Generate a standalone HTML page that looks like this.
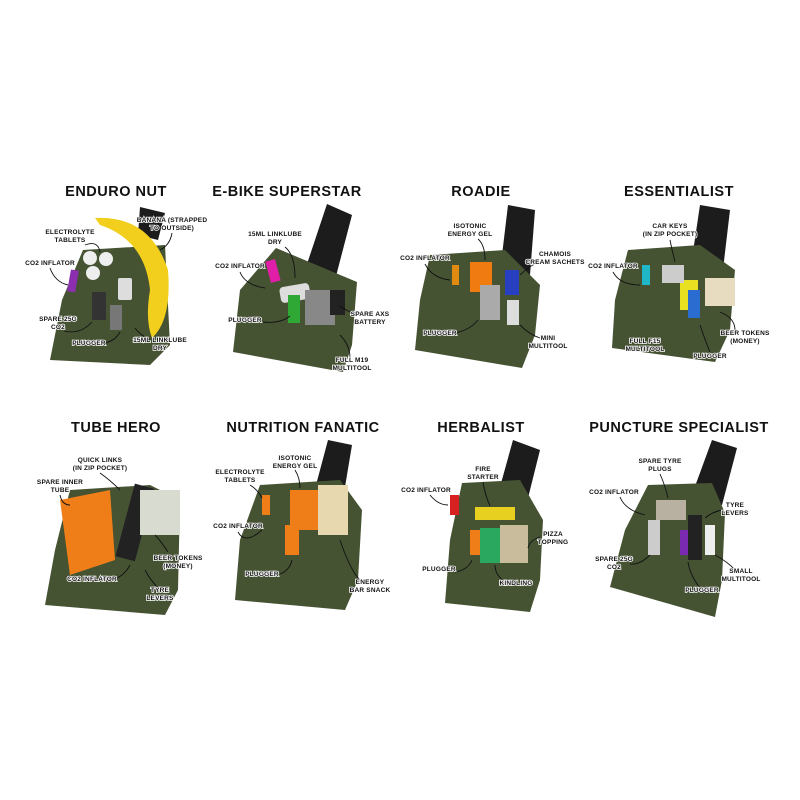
<!DOCTYPE html>
<html><head><meta charset="utf-8"><style>
body{margin:0;background:#fff;width:800px;height:800px;overflow:hidden}
svg{display:block}
.t{font-family:"Liberation Sans",sans-serif;font-weight:bold;font-size:14.5px;fill:#111;letter-spacing:.5px}
.l{font-family:"Liberation Sans",sans-serif;font-weight:bold;font-size:6.5px;fill:#111;stroke:#fff;stroke-width:1.6px;paint-order:stroke;letter-spacing:.2px}
.p{fill:#465333}
.d{fill:#1c1c1c}
.a{fill:none;stroke:#111;stroke-width:.9}
</style></head><body>
<svg width="800" height="800" viewBox="0 0 800 800">
<rect width="800" height="800" fill="#fff"/>
<text class="t" x="116" y="196" text-anchor="middle">ENDURO NUT</text>
<text class="t" x="287" y="196" text-anchor="middle">E-BIKE SUPERSTAR</text>
<text class="t" x="481" y="196" text-anchor="middle">ROADIE</text>
<text class="t" x="679" y="196" text-anchor="middle">ESSENTIALIST</text>
<text class="t" x="116" y="432" text-anchor="middle">TUBE HERO</text>
<text class="t" x="303" y="432" text-anchor="middle">NUTRITION FANATIC</text>
<text class="t" x="481" y="432" text-anchor="middle">HERBALIST</text>
<text class="t" x="679" y="432" text-anchor="middle">PUNCTURE SPECIALIST</text>

<polygon class="d" points="140,207 165,213 158,240 138,235"/>
<polygon class="d" points="327,204 352,215 335,280 305,270"/>
<polygon class="d" points="508,205 535,210 530,275 500,272"/>
<polygon class="d" points="700,205 730,210 722,278 690,272"/>
<polygon class="d" points="328,440 352,445 342,505 312,500"/>
<polygon class="d" points="513,440 540,450 525,510 495,505"/>
<polygon class="d" points="712,440 737,448 722,505 690,500"/>

<polygon class="p" points="83,250 165,245 170,345 150,365 50,360 62,300"/>
<polygon class="p" points="276,248 357,282 352,345 343,372 233,352 240,290"/>
<polygon class="p" points="430,255 505,250 540,285 535,335 522,368 415,350 420,300"/>
<polygon class="p" points="628,250 700,245 735,270 730,330 715,362 612,348 615,300"/>
<polygon class="p" points="70,490 150,485 180,500 178,590 165,615 45,605 55,550"/>
<polygon class="p" points="260,485 340,480 362,510 358,580 345,610 235,600 240,540"/>
<polygon class="p" points="462,483 520,480 543,520 540,580 530,612 445,603 450,540"/>
<polygon class="p" points="648,485 712,483 725,513 722,580 715,617 610,587 625,530"/>

<path d="M95,218 Q150,215 168,270 Q172,320 152,338 Q145,320 150,290 Q145,240 100,225 Z" fill="#f2cf1c"/>
<circle cx="90" cy="258" r="7" fill="#eee"/><circle cx="106" cy="259" r="7" fill="#eee"/><circle cx="93" cy="273" r="7" fill="#eee"/>
<rect x="69" y="270" width="8" height="22" fill="#8b2fb0" transform="rotate(10 73 281)"/>
<rect x="118" y="278" width="14" height="22" fill="#ddd" rx="2"/>
<rect x="92" y="292" width="14" height="28" fill="#333"/><rect x="110" y="305" width="12" height="25" fill="#777"/>
<rect x="268" y="260" width="10" height="22" fill="#e01ea8" transform="rotate(-15 273 271)"/>
<rect x="280" y="285" width="30" height="16" fill="#ddd" rx="4" transform="rotate(-10 295 293)"/>
<rect x="288" y="295" width="12" height="28" fill="#2fa836"/>
<rect x="305" y="290" width="30" height="35" fill="#888"/>
<rect x="330" y="290" width="15" height="25" fill="#222"/>
<rect x="452" y="265" width="7" height="20" fill="#e08a10"/>
<rect x="470" y="262" width="22" height="30" fill="#f07b10"/>
<rect x="480" y="285" width="20" height="35" fill="#aaa"/>
<rect x="505" y="270" width="14" height="25" fill="#2840c0"/>
<rect x="507" y="300" width="12" height="25" fill="#ddd"/>
<rect x="642" y="265" width="8" height="20" fill="#20b8c8"/>
<rect x="680" y="280" width="18" height="30" fill="#e8e020"/>
<rect x="688" y="290" width="12" height="28" fill="#2a6cd0"/>
<rect x="705" y="278" width="30" height="28" fill="#e8dcc0"/>
<rect x="662" y="265" width="22" height="18" fill="#ccc"/>
<polygon points="60,500 110,490 115,560 70,575" fill="#f07e18"/>
<rect x="125" y="485" width="20" height="75" fill="#222" transform="rotate(15 135 522)"/>
<rect x="140" y="490" width="40" height="45" fill="#d8dcd0"/>
<rect x="262" y="495" width="8" height="20" fill="#f07e18"/>
<rect x="290" y="490" width="28" height="40" fill="#f07e18"/>
<rect x="318" y="485" width="30" height="50" fill="#e8d8b0"/>
<rect x="285" y="525" width="14" height="30" fill="#f07e18"/>
<rect x="450" y="495" width="9" height="20" fill="#d82020"/>
<rect x="475" y="507" width="40" height="13" fill="#e8d020"/>
<rect x="470" y="530" width="10" height="25" fill="#f07e18"/>
<rect x="480" y="528" width="20" height="35" fill="#2aa860"/>
<rect x="500" y="525" width="28" height="38" fill="#c8bc9c"/>
<rect x="656" y="500" width="30" height="20" fill="#b8b0a0"/>
<rect x="680" y="530" width="10" height="25" fill="#7a2ab0"/>
<rect x="688" y="515" width="14" height="45" fill="#222"/>
<rect x="705" y="525" width="10" height="30" fill="#eee"/>
<rect x="648" y="520" width="12" height="35" fill="#ccc"/>

<!-- connectors -->
<g class="a">
<path d="M85,245 Q98,240 100,252"/><path d="M50,268 Q55,282 68,285"/><path d="M64,331 Q80,335 92,322"/>
<path d="M100,344 Q115,342 120,332"/><path d="M172,233 Q170,245 160,250"/><path d="M150,340 Q140,335 135,328"/>
<path d="M285,247 Q295,255 295,278"/><path d="M240,272 Q245,285 265,288"/><path d="M262,322 Q280,324 290,316"/>
<path d="M355,314 Q345,310 340,306"/><path d="M350,358 Q350,345 340,335"/>
<path d="M478,239 Q485,245 485,260"/><path d="M425,264 Q432,278 450,280"/><path d="M540,262 Q530,265 520,275"/>
<path d="M455,333 Q470,330 478,320"/><path d="M540,338 Q530,335 520,325"/>
<path d="M670,240 Q672,250 675,262"/><path d="M613,272 Q620,285 640,285"/><path d="M735,330 Q735,318 720,312"/><path d="M710,352 Q705,340 700,325"/>
<path d="M100,473 Q110,480 120,490"/><path d="M60,495 Q62,505 70,505"/><path d="M168,552 Q160,540 155,535"/><path d="M115,579 Q125,575 130,565"/><path d="M160,590 Q150,580 145,570"/>
<path d="M295,470 Q300,478 300,488"/><path d="M250,485 Q258,490 262,498"/><path d="M238,532 Q245,545 262,530"/><path d="M280,574 Q290,570 292,560"/><path d="M360,580 Q350,570 340,540"/>
<path d="M483,482 Q485,495 490,506"/><path d="M430,495 Q438,505 448,505"/><path d="M540,537 Q530,540 528,548"/><path d="M455,572 Q468,570 472,560"/><path d="M505,582 Q495,575 495,565"/>
<path d="M660,474 Q665,485 668,498"/><path d="M620,497 Q625,510 645,515"/><path d="M722,510 Q712,512 705,518"/><path d="M630,564 Q640,565 650,555"/><path d="M735,570 Q728,562 715,555"/><path d="M700,588 Q690,575 688,562"/>
</g>

<g>
<text class="l" x="70" y="234" text-anchor="middle">ELECTROLYTE</text><text class="l" x="70" y="242" text-anchor="middle">TABLETS</text>
<text class="l" x="50" y="265" text-anchor="middle">CO2 INFLATOR</text>
<text class="l" x="58" y="321" text-anchor="middle">SPARE 25G</text><text class="l" x="58" y="329" text-anchor="middle">CO2</text>
<text class="l" x="89" y="345" text-anchor="middle">PLUGGER</text>
<text class="l" x="172" y="222" text-anchor="middle">BANANA (STRAPPED</text><text class="l" x="172" y="230" text-anchor="middle">TO OUTSIDE)</text>
<text class="l" x="160" y="342" text-anchor="middle">15ML LINKLUBE</text><text class="l" x="160" y="350" text-anchor="middle">DRY</text>
<text class="l" x="275" y="236" text-anchor="middle">15ML LINKLUBE</text><text class="l" x="275" y="244" text-anchor="middle">DRY</text>
<text class="l" x="240" y="268" text-anchor="middle">CO2 INFLATOR</text>
<text class="l" x="245" y="322" text-anchor="middle">PLUGGER</text>
<text class="l" x="370" y="316" text-anchor="middle">SPARE AXS</text><text class="l" x="370" y="324" text-anchor="middle">BATTERY</text>
<text class="l" x="352" y="362" text-anchor="middle">FULL M19</text><text class="l" x="352" y="370" text-anchor="middle">MULTITOOL</text>
<text class="l" x="470" y="228" text-anchor="middle">ISOTONIC</text><text class="l" x="470" y="236" text-anchor="middle">ENERGY GEL</text>
<text class="l" x="425" y="260" text-anchor="middle">CO2 INFLATOR</text>
<text class="l" x="555" y="256" text-anchor="middle">CHAMOIS</text><text class="l" x="555" y="264" text-anchor="middle">CREAM SACHETS</text>
<text class="l" x="440" y="335" text-anchor="middle">PLUGGER</text>
<text class="l" x="548" y="340" text-anchor="middle">MINI</text><text class="l" x="548" y="348" text-anchor="middle">MULTITOOL</text>
<text class="l" x="670" y="228" text-anchor="middle">CAR KEYS</text><text class="l" x="670" y="236" text-anchor="middle">(IN ZIP POCKET)</text>
<text class="l" x="613" y="268" text-anchor="middle">CO2 INFLATOR</text>
<text class="l" x="645" y="343" text-anchor="middle">FULL F15</text><text class="l" x="645" y="351" text-anchor="middle">MULTITOOL</text>
<text class="l" x="745" y="335" text-anchor="middle">BEER TOKENS</text><text class="l" x="745" y="343" text-anchor="middle">(MONEY)</text>
<text class="l" x="710" y="358" text-anchor="middle">PLUGGER</text>
<text class="l" x="100" y="462" text-anchor="middle">QUICK LINKS</text><text class="l" x="100" y="470" text-anchor="middle">(IN ZIP POCKET)</text>
<text class="l" x="60" y="484" text-anchor="middle">SPARE INNER</text><text class="l" x="60" y="492" text-anchor="middle">TUBE</text>
<text class="l" x="178" y="560" text-anchor="middle">BEER TOKENS</text><text class="l" x="178" y="568" text-anchor="middle">(MONEY)</text>
<text class="l" x="92" y="581" text-anchor="middle">CO2 INFLATOR</text>
<text class="l" x="160" y="592" text-anchor="middle">TYRE</text><text class="l" x="160" y="600" text-anchor="middle">LEVERS</text>
<text class="l" x="295" y="460" text-anchor="middle">ISOTONIC</text><text class="l" x="295" y="468" text-anchor="middle">ENERGY GEL</text>
<text class="l" x="240" y="474" text-anchor="middle">ELECTROLYTE</text><text class="l" x="240" y="482" text-anchor="middle">TABLETS</text>
<text class="l" x="238" y="528" text-anchor="middle">CO2 INFLATOR</text>
<text class="l" x="262" y="576" text-anchor="middle">PLUGGER</text>
<text class="l" x="370" y="584" text-anchor="middle">ENERGY</text><text class="l" x="370" y="592" text-anchor="middle">BAR SNACK</text>
<text class="l" x="483" y="471" text-anchor="middle">FIRE</text><text class="l" x="483" y="479" text-anchor="middle">STARTER</text>
<text class="l" x="426" y="492" text-anchor="middle">CO2 INFLATOR</text>
<text class="l" x="553" y="536" text-anchor="middle">PIZZA</text><text class="l" x="553" y="544" text-anchor="middle">TOPPING</text>
<text class="l" x="439" y="571" text-anchor="middle">PLUGGER</text>
<text class="l" x="516" y="585" text-anchor="middle">KINDLING</text>
<text class="l" x="660" y="463" text-anchor="middle">SPARE TYRE</text><text class="l" x="660" y="471" text-anchor="middle">PLUGS</text>
<text class="l" x="614" y="494" text-anchor="middle">CO2 INFLATOR</text>
<text class="l" x="735" y="507" text-anchor="middle">TYRE</text><text class="l" x="735" y="515" text-anchor="middle">LEVERS</text>
<text class="l" x="614" y="561" text-anchor="middle">SPARE 25G</text><text class="l" x="614" y="569" text-anchor="middle">CO2</text>
<text class="l" x="741" y="573" text-anchor="middle">SMALL</text><text class="l" x="741" y="581" text-anchor="middle">MULTITOOL</text>
<text class="l" x="702" y="592" text-anchor="middle">PLUGGER</text>
</g>
</svg>
</body></html>
